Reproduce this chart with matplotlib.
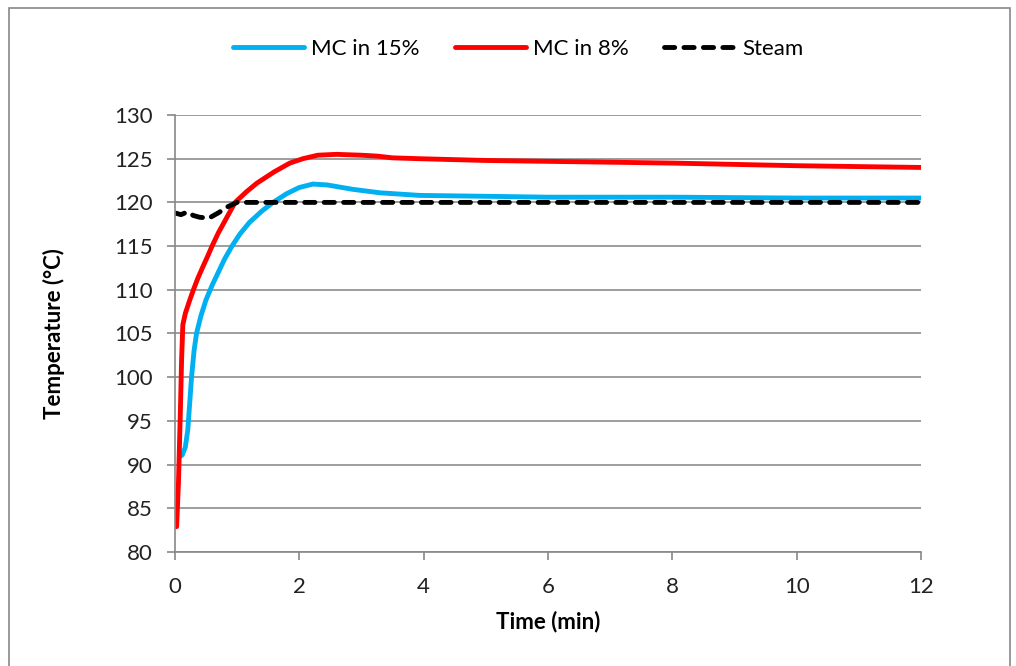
"""Temperature profiles for MC 15%, MC 8% and steam."""

import matplotlib
matplotlib.use("Agg")
import matplotlib.pyplot as plt
from matplotlib.patches import Rectangle

plt.rcParams["font.family"] = ["Lato", "DejaVu Sans"]

# MC in 15%
time_mc15 = [0.08, 0.12, 0.17, 0.21, 0.24, 0.27, 0.31, 0.35, 0.42, 0.5, 0.6, 0.7,
             0.8, 0.92, 1.05, 1.2, 1.4, 1.58, 1.8, 2.0, 2.22, 2.45, 2.86, 3.3,
             3.94, 5.0, 6.0, 8.0, 10.0, 12.0]
temp_mc15 = [90.9, 91.1, 92.0, 94.0, 97.0, 100.0, 103.0, 105.0, 107.0, 108.8,
             110.5, 112.0, 113.5, 115.0, 116.4, 117.7, 119.0, 120.0, 121.0, 121.7,
             122.1, 122.0, 121.5, 121.1, 120.8, 120.7, 120.6, 120.6, 120.5, 120.5]

# MC in 8%
time_mc8 = [0.03, 0.06, 0.09, 0.11, 0.13, 0.17, 0.24, 0.3, 0.37, 0.45, 0.52, 0.6,
            0.7, 0.8, 0.97, 1.15, 1.32, 1.6, 1.85, 2.06, 2.3, 2.6, 3.0, 3.25, 3.5,
            3.94, 5.0, 6.0, 8.0, 10.0, 12.0]
temp_mc8 = [82.9, 88.0, 96.0, 102.0, 106.0, 107.3, 108.8, 110.0, 111.3, 112.6,
            113.7, 115.0, 116.5, 117.8, 120.0, 121.2, 122.2, 123.5, 124.5, 125.0,
            125.4, 125.5, 125.4, 125.3, 125.1, 125.0, 124.8, 124.7, 124.5, 124.2,
            124.0]

# Steam
time_steam = [0.0, 0.1, 0.2, 0.3, 0.4, 0.55, 0.7, 0.85, 1.0, 1.5, 2.0, 4.0, 6.0,
              8.0, 10.0, 12.0]
temp_steam = [118.8, 118.6, 118.9, 118.5, 118.3, 118.2, 118.8, 119.5, 120.0,
              120.0, 120.0, 120.0, 120.0, 120.0, 120.0, 120.0]

x_ticks = [0, 2, 4, 6, 8, 10, 12]
y_ticks = [80, 85, 90, 95, 100, 105, 110, 115, 120, 125, 130]


def main():
    fig = plt.figure(figsize=(10.16, 6.66), dpi=100)
    ax = fig.add_axes([0.172, 0.1712, 0.7345, 0.6561])

    ax.plot(time_mc15, temp_mc15, color="#00b0f0", lw=3.5, label="MC in 15%",
            solid_capstyle="round", solid_joinstyle="round")
    ax.plot(time_mc8, temp_mc8, color="#ff0000", lw=3.5, label="MC in 8%",
            solid_capstyle="round", solid_joinstyle="round")
    ax.plot(time_steam, temp_steam, color="black", lw=3.5, ls=(0, (2.1, 1.9)),
            dash_capstyle="round", label="Steam")

    ax.set_xlim(0, 12)
    ax.set_ylim(80, 130)
    ax.set_xticks(x_ticks)
    ax.set_yticks(y_ticks)
    ax.tick_params(labelsize=16, length=6, color="#888888", width=1.2,
                   labelcolor="#222222")
    ax.tick_params(axis="x", pad=12)
    ax.tick_params(axis="y", pad=10)
    ax.grid(axis="y", color="#8c8c8c", lw=1.2)
    ax.set_axisbelow(True)
    for side in ("top", "right"):
        ax.spines[side].set_visible(False)
    for side in ("left", "bottom"):
        ax.spines[side].set_color("#888888")
        ax.spines[side].set_linewidth(1.2)

    ax.set_xlabel("Time (min)", fontsize=16, fontweight="bold")
    ax.set_ylabel("Temperature (°C)", fontsize=16, fontweight="bold")
    ax.xaxis.set_label_coords(0.5, -0.135)
    ax.yaxis.set_label_coords(-0.147, 0.5)

    fig.legend(loc="center", bbox_to_anchor=(0.51, 0.927), ncol=3, frameon=False,
               fontsize=16, handlelength=3.2, columnspacing=1.6, handletextpad=0.3)

    fig.patches.append(Rectangle((0.009, -0.02), 0.985, 1.008, transform=fig.transFigure,
                                 fill=False, edgecolor="#888888", lw=1.2))

    fig.savefig("out.png", dpi=100)
    plt.close(fig)


if __name__ == "__main__":
    main()
